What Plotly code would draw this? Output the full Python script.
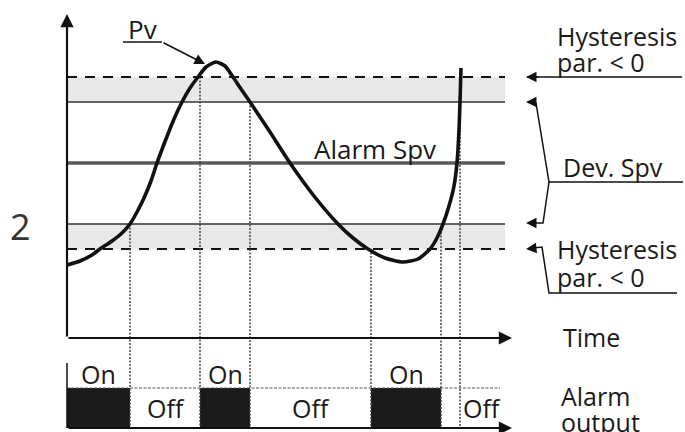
import plotly.graph_objects as go

# ---------------- data (time units / process-value units) ----------------
PV_TIME = [0, 13, 25, 33, 45, 55, 63, 70, 77, 84, 90, 99, 107, 115, 123, 131, 139, 149,
           158, 166, 174, 183, 193, 203, 223, 247, 271, 286, 301, 318, 336, 351, 363,
           370, 376, 382, 387, 390, 392, 393, 394]
PV_VALUE = [73, 77, 83, 89, 97, 105, 114, 126, 140, 157, 175, 199, 219, 236, 250, 261, 271, 276,
            272, 261, 249, 236, 221, 206, 175, 142, 114, 100, 89, 80, 76, 79, 89,
            100, 114, 132, 152, 175, 208, 236, 270]

ALARM_SPV = 175
DEV_SPV = 61
HYSTERESIS = 25
T_END = 438

# switching instants (time) and the level where each is read on Pv
EVENT_TIME = [63, 133, 183, 304, 374, 393]
EVENT_LEVEL = [114, 261, 236, 89, 106, 236]

# alarm output: state between successive change times (1 = On, 0 = Off)
OUT_TIME = [0, 63, 133, 183, 304, 374, T_END]
OUT_STATE = [1, 0, 1, 0, 1, 0]
OUT_LABELS = ["On", "Off", "On", "Off", "On", "Off"]

# ---------------- layout geometry ----------------
W, H = 685, 432
X0, Y0 = 67, 338          # pixel position of the time/value origin
OUT_BASE = -90            # output baseline (value units)
OUT_HIGH = 40             # output bar height
FONT = "Open Sans"
TXT = "#1a1a1a"


def px(x, y):
    """pixel position -> data coordinates"""
    return x - X0, Y0 - y


fig = go.Figure()

hi_set = ALARM_SPV + DEV_SPV
hi_hyst = hi_set + HYSTERESIS
lo_set = ALARM_SPV - DEV_SPV
lo_hyst = lo_set - HYSTERESIS

# grey hysteresis bands
for a, b in [(hi_set, hi_hyst), (lo_hyst, lo_set)]:
    fig.add_shape(type="rect", xref="x", yref="y", x0=0, x1=T_END, y0=a, y1=b,
                  fillcolor="#e8e8e8", line_width=0, layer="below")

# threshold lines
for lvl in [hi_set, lo_set]:
    fig.add_trace(go.Scatter(x=[0, T_END], y=[lvl, lvl], mode="lines",
                             line=dict(color="#333333", width=1.6), hoverinfo="skip"))
for lvl in [hi_hyst, lo_hyst]:
    fig.add_trace(go.Scatter(x=[0, T_END], y=[lvl, lvl], mode="lines",
                             line=dict(color="#111111", width=1.8, dash="10px,8px"),
                             hoverinfo="skip"))
fig.add_trace(go.Scatter(x=[0, T_END], y=[ALARM_SPV, ALARM_SPV], mode="lines",
                         line=dict(color="#5a5a5a", width=3.5), hoverinfo="skip"))

# dotted event lines
for t, lv in zip(EVENT_TIME, EVENT_LEVEL):
    fig.add_trace(go.Scatter(x=[t, t], y=[lv, OUT_BASE], mode="lines",
                             line=dict(color="#444444", width=1.5, dash="2px,1.5px"),
                             hoverinfo="skip"))

# output "On" level dotted line
fig.add_trace(go.Scatter(x=[0, 433], y=[OUT_BASE + OUT_HIGH] * 2, mode="lines",
                         line=dict(color="#555555", width=1, dash="3px,1.5px"),
                         hoverinfo="skip"))

# output bars
bx, bw = [], []
for i, s in enumerate(OUT_STATE):
    if s:
        bx.append((OUT_TIME[i] + OUT_TIME[i + 1]) / 2)
        bw.append(OUT_TIME[i + 1] - OUT_TIME[i])
fig.add_trace(go.Bar(x=bx, y=[OUT_HIGH] * len(bx), width=bw, base=OUT_BASE,
                     marker=dict(color="#1a1a1a", line=dict(width=0)), hoverinfo="skip"))

# Pv curve
fig.add_trace(go.Scatter(x=PV_TIME, y=PV_VALUE, mode="lines",
                         line=dict(color="#111111", width=3.6, shape="spline", smoothing=0.6),
                         hoverinfo="skip"))

# leader lines on the right and Pv label leader
leaders = [
    [(527, 77), (682, 77)],
    [(533, 102), (536, 103), (549, 182), (683, 182)],
    [(549, 182), (543, 223), (533, 223)],
    [(533, 248), (542, 247), (549, 293), (677, 293)],
    [(123, 42), (162, 42)],
    [(67, 363), (67, 428)],
]
for seg in leaders:
    xs, ys = zip(*[px(a, b) for a, b in seg])
    fig.add_trace(go.Scatter(x=xs, y=ys, mode="lines",
                             line=dict(color="#111111", width=1.5), hoverinfo="skip"))

# arrows (head, tail, width)
arrows = [
    ((67, 14), (67, 338), 2.2),      # value axis
    ((512, 338), (67, 338), 2.2),    # time axis
    ((512, 428), (67, 428), 2.2),    # output axis
    ((205, 64), (162, 42), 1.5),     # Pv pointer
    ((526, 77), (540, 77), 1.5),
    ((526, 102), (536, 102), 1.5),
    ((526, 223), (536, 223), 1.5),
    ((526, 249), (536, 248), 1.5),
]
annotations = []
for head, tail, w in arrows:
    hx, hy = px(*head)
    tx, ty = px(*tail)
    annotations.append(dict(x=hx, y=hy, ax=tx, ay=ty, xref="x", yref="y",
                            axref="x", ayref="y", text="", showarrow=True,
                            arrowhead=2, arrowsize=1.2 if w > 2 else 1.4,
                            arrowwidth=w, arrowcolor="#111111", standoff=0))

# texts: (text, px x, px y of cap-middle, size, anchor)
texts = [
    ("Hysteresis", 555, 36, 25, "left"),
    ("par. < 0", 555, 62, 25, "left"),
    ("Dev. Spv", 561, 167, 25, "left"),
    ("Hysteresis", 555, 249, 25, "left"),
    ("par. < 0", 555, 277, 25, "left"),
    ("Time", 561, 337, 25, "left"),
    ("Alarm", 559, 396, 25, "left"),
    ("output", 559, 422, 25, "left"),
    ("Pv", 126, 29, 26, "left"),
    ("Alarm Spv", 312, 149, 26, "left"),
]
for t, x, y, s, anc in texts:
    dx, dy = px(x, y)
    annotations.append(dict(x=dx, y=dy, xref="x", yref="y", text=t, showarrow=False,
                            xanchor=anc, yanchor="middle",
                            font=dict(family=FONT, size=s, color=TXT)))

# output labels
for i, lab in enumerate(OUT_LABELS):
    mid = (OUT_TIME[i] + OUT_TIME[i + 1]) / 2
    if lab == "On":
        yv = OUT_BASE + OUT_HIGH + 14
    else:
        yv = OUT_BASE + 20
    annotations.append(dict(x=mid if i < 5 else 414, y=yv, xref="x", yref="y", text=lab,
                            showarrow=False, xanchor="center", yanchor="middle",
                            font=dict(family=FONT, size=25, color=TXT)))

dx, dy = px(8, 226)
annotations.append(dict(x=dx, y=dy, xref="x", yref="y", text="2", showarrow=False,
                        xanchor="left", yanchor="middle",
                        font=dict(family=FONT, size=36, color="#333333")))

fig.update_layout(
    width=W, height=H, autosize=False,
    margin=dict(l=0, r=0, t=0, b=0),
    paper_bgcolor="white", plot_bgcolor="white",
    showlegend=False,
    xaxis=dict(range=[-X0, W - X0], visible=False, fixedrange=True),
    yaxis=dict(range=[Y0 - H, Y0], visible=False, fixedrange=True),
    annotations=annotations,
    bargap=0,
)

fig.write_html(
    "out.html",
    config={"displayModeBar": False},
    post_script="document.documentElement.style.margin='0';document.body.style.margin='0';"
                "document.body.style.overflow='hidden';",
)
